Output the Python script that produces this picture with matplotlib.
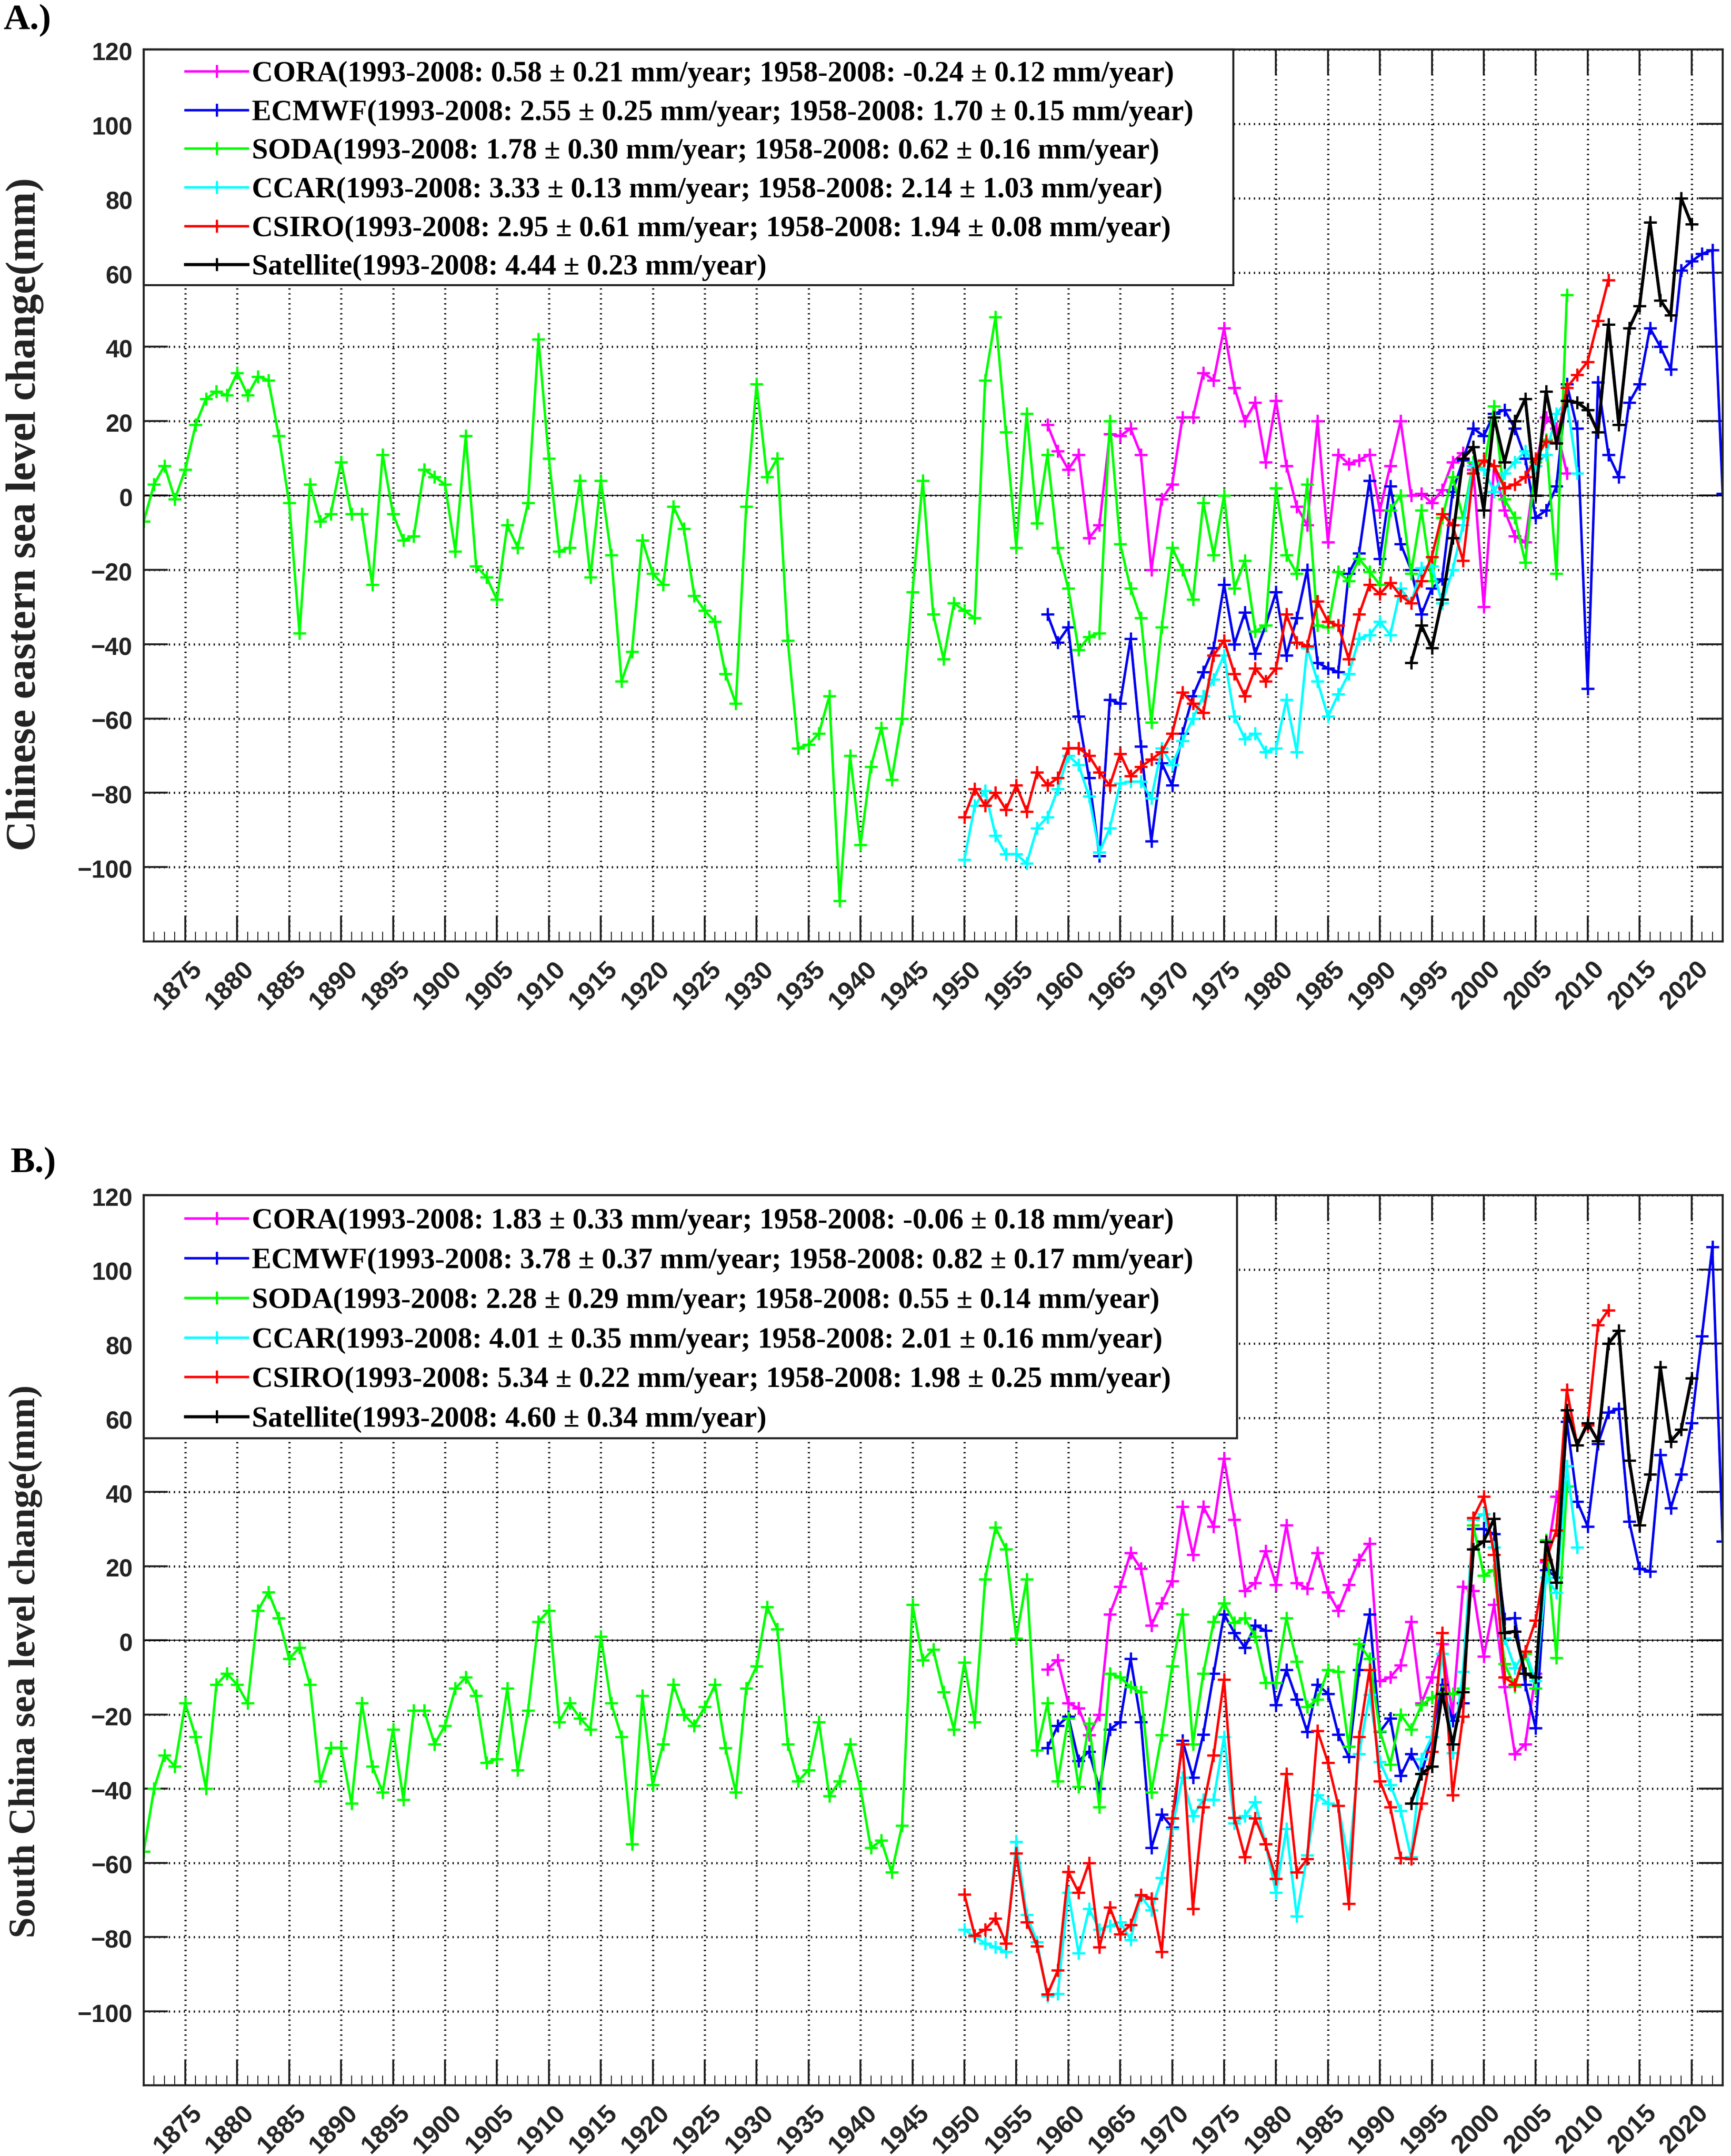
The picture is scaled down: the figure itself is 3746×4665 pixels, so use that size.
import numpy as np
import matplotlib
matplotlib.use('Agg')
import matplotlib.pyplot as plt
from matplotlib.patches import Rectangle
from matplotlib.ticker import MultipleLocator
from matplotlib.transforms import ScaledTranslation

W, H = 3746, 4665

names = ['CORA', 'ECMWF', 'SODA', 'CCAR', 'CSIRO', 'Satellite']
colors = ['#ff00ff', '#0000f0', '#00ff00', '#00ffff', '#ff0000', '#000000']
start_years = [1958, 1958, 1871, 1950, 1950, 1993]

# A.) Chinese eastern sea
cora_a = [19, 12, 7, 11, -11.5, -8, 16.5, 16, 18, 11, -20, -1, 3, 21, 21, 33, 31, 45, 29, 20,
          25, 9, 25.5, 8, -3, -8, 20, -12.5, 11, 8.5, 9.5, 11, -4, 8, 20, 0, 0.5, -2, 1.5, 9,
          11.5, 7, -30, 8, -4, -11, -12.5, 8, 21, 18, 6]
ecmwf_a = [-32, -39.5, -35.5, -59.5, -76, -97, -55, -56, -38.5, -67.5, -93, -72, -78, -64, -54,
           -47.5, -41, -24, -40, -31.5, -42.5, -35, -26, -43, -33, -20, -45, -46.5, -47.5, -21,
           -15.5, 4, -17, 2.5, -13, -20, -32, -25, -22.5, 1, 9.5, 18, 16, 22, 23, 18, 10, -6, -4,
           2.5, 30, 18, -52, 30.5, 11, 5, 25, 30, 45, 40, 34, 60.5, 63, 65, 66, 0.5]
soda_a = [-7, 3, 8, -1, 7, 19, 26, 28, 27, 33, 27, 32, 31, 16, -2, -37, 3, -7, -5, 9,
          -5, -5, -24, 11, -5, -12, -11, 7, 5, 3, -15, 16, -19, -22, -28, -8, -14, -2, 42, 10,
          -15, -14, 4, -22, 4, -16, -50, -42, -12, -21, -24, -3, -9, -27, -31, -34, -48, -56, -3, 30,
          5, 10, -39, -68, -67, -64, -54, -109, -70, -94, -73, -62.5, -76.5, -60, -26, 4, -32, -44, -29, -31,
          -33, 31, 48, 17, -14, 22, -7.5, 11, -14, -25, -41.5, -38, -37, 20, -13, -25, -33, -61, -35.5, -14,
          -20, -28, -2, -16, 0, -25, -17.5, -36.5, -35, 2, -16, -21, 3, -35, -35.5, -20.5, -23, -17, -20.5, -24,
          -4, 0, -21, -4, -23, -6, 5, -6, 9, 7, 24, -1, -6, -18, 9, 15, -21, 54]
ccar_a = [-98, -83.5, -79.5, -91.5, -96.5, -96.5, -99, -89.5, -86.5, -79, -70, -72.5, -81, -96, -89.5,
          -77.5, -77, -77, -81.5, -68, -72.5, -66, -60, -54, -49.5, -43, -59.5, -65.5, -64, -69,
          -68, -55, -69, -41, -50, -59.5, -53.5, -48, -38.5, -37.5, -34, -37.5, -25, -29, -19.5,
          -19, -29, -20, -8, 8, 7, 1, 6, 9, 12, 8, 11, 22, 25.5, 6]
csiro_a = [-86.5, -79, -83.5, -80, -84.5, -78, -85, -74.5, -78, -76, -68, -68, -70, -74.5, -78,
           -69.5, -75.5, -73, -71, -69, -64, -53, -56, -58.5, -43, -39, -48, -54, -46.5, -50,
           -46.5, -32, -39.5, -40.5, -28.5, -34, -35, -44, -32, -24, -26.5, -23.5, -27, -29, -23,
           -16.5, -5, -8, -17.5, 6, 9.5, 8, 2, 3, 5, 10, 14.5, 14, 29, 32.5, 36, 47, 58]
satellite_a = [-45, -35, -41, -28, -11.5, 10, 13, -4, 21, 9, 20, 26, 0, 28, 14, 25.5, 25, 23, 17, 46,
               19, 45, 51, 73.5, 52.5, 48.5, 80, 73]

# B.) South China Sea
cora_b = [-7.8, -5.3, -17, -18.3, -25.5, -20, 7, 14.4, 23.5, 19.3, 4, 10, 16, 36, 23, 36, 30.7, 49,
          32.5, 13.3, 15.5, 24, 15, 31, 15.4, 14, 23.5, 13, 8, 15, 21.7, 26, -11, -10, -6.7, 5,
          -17, -10, -1, -20, 14.4, 13.3, -4.4, 9.6, -12.6, -30.7, -28, -9, 21, 38.7]
ecmwf_b = [-29, -23, -20.5, -32.5, -30, -40, -24, -22, -5, -22, -56, -47, -50.5, -27, -37, -25.4,
           -9, 7, 2, -2, 4, 2.6, -17.5, -8, -16, -24.7, -12, -14.4, -25.4, -31.4, -8, 7, -24.7,
           -21, -36.5, -30.7, -36, -26, -12, -21.7, -17, 30, 30, 28.6, 5.7, 6, -12, -23.7, 19, 17,
           59, 37.4, 30.7, 53, 61.4, 62.4, 32, 19.3, 18.6, 50, 35.6, 44.7, 58.6, 82, 106, 26.7]
soda_b = [-57, -40, -31, -34, -17, -26, -40, -12, -9, -12, -17, 8, 13, 6, -5, -2, -12, -38, -29, -29,
          -44, -17, -34, -41, -24, -43, -19, -19, -28, -23, -13, -10, -15, -33, -32, -13, -35, -19, 5, 8,
          -22, -17, -21, -24, 1, -17, -26, -55, -15, -39, -28, -12, -20, -23, -18, -12, -29, -41, -13, -7,
          9, 3, -28, -38, -35, -22, -42, -38, -28, -40, -56, -54, -62.6, -50, 9.6, -5.4, -2.5, -14, -24, -6,
          -22, 16.5, 30.4, 24.6, 0.5, 16.5, -29.6, -17, -38, -21, -39.5, -22.4, -45, -9, -10, -12.6, -14, -41, -25.5, -7,
          7, -28, -9, 5, 10, 4.7, 6, 1, -11.5, -11.5, 6, -5.7, -18, -16, -8, -8.5, -28.6, -1, -5, -24.5,
          -33.5, -20, -24, -17.5, -15.5, -14, -14.5, -13, 31, 17.5, 19, -6.4, -12.4, -3.6, -13, 27, -4.7, 41.5]
ccar_b = [-78, -80, -81.7, -82.8, -84, -54.3, -74, -81.4, -96, -95.3, -68, -84.4, -72.4, -78, -77,
          -76, -80.7, -69, -72.8, -64, -50.8, -37, -47.4, -43, -43, -26, -49.4, -47.4, -43.6, -55,
          -68, -50.8, -74.4, -58, -41.8, -44, -44.6, -60, -30.7, -14.7, -32.8, -39, -46, -58.5, -32,
          -26, -3.6, -30.4, -8.5, 32.5, 34, 25, 0.5, -7.5, -3, -11, 17, 12.8, 47, 25]
csiro_b = [-68.5, -79.6, -78, -75, -81.7, -57.5, -76, -82.5, -95.5, -89, -62.4, -68, -60, -82.8, -72,
           -79.3, -76.8, -68.6, -69.6, -84, -48, -28, -72.4, -45, -31, -10.6, -47.8, -58.5, -48, -55,
           -64.3, -36, -62.6, -59, -24.4, -33, -44.6, -71, -26, -8, -38, -45, -58.7, -59, -44,
           -30, 2, -41.8, -20.5, 33, 38.7, 23, -10, -12, -3, 5.4, 21.7, 29.7, 67.5, 52.6, 58, 85, 89]
satellite_b = [-44, -36, -34, -14.4, -28, -14, 24.6, 26.7, 32.8, 2, 2.4, -9, -10, 26.5, 15.6, 62, 52.6,
               58.6, 53.7, 80, 83.5, 48.5, 31, 44.7, 73.7, 53.6, 56.8, 70.7]

labels_a = ['CORA(1993-2008: 0.58 ± 0.21 mm/year; 1958-2008: -0.24 ± 0.12 mm/year)',
            'ECMWF(1993-2008: 2.55 ± 0.25 mm/year; 1958-2008: 1.70 ± 0.15 mm/year)',
            'SODA(1993-2008: 1.78 ± 0.30 mm/year; 1958-2008: 0.62 ± 0.16 mm/year)',
            'CCAR(1993-2008: 3.33 ± 0.13 mm/year; 1958-2008: 2.14 ± 1.03 mm/year)',
            'CSIRO(1993-2008: 2.95 ± 0.61 mm/year; 1958-2008: 1.94 ± 0.08 mm/year)',
            'Satellite(1993-2008: 4.44 ± 0.23 mm/year)']
labels_b = ['CORA(1993-2008: 1.83 ± 0.33 mm/year; 1958-2008: -0.06 ± 0.18 mm/year)',
            'ECMWF(1993-2008: 3.78 ± 0.37 mm/year; 1958-2008: 0.82 ± 0.17 mm/year)',
            'SODA(1993-2008: 2.28 ± 0.29 mm/year; 1958-2008: 0.55 ± 0.14 mm/year)',
            'CCAR(1993-2008: 4.01 ± 0.35 mm/year; 1958-2008: 2.01 ± 0.16 mm/year)',
            'CSIRO(1993-2008: 5.34 ± 0.22 mm/year; 1958-2008: 1.98 ± 0.25 mm/year)',
            'Satellite(1993-2008: 4.60 ± 0.34 mm/year)']
y_ticks = list(range(-100, 121, 20))
x_ticks = list(range(1875, 2021, 5))

plt.rcParams['font.family'] = 'Liberation Sans'
plt.rcParams['font.weight'] = 'bold'

fig = plt.figure(figsize=(W / 300, H / 300), dpi=300, facecolor='white')


def draw_panel(top_px, bottom_px, series, labels, box_w, box_h, row_px, legend_top):
    ax = fig.add_axes([311 / W, 1 - bottom_px / H, (3728 - 311) / W, (bottom_px - top_px) / H])
    for name, color, start, values in zip(names, colors, start_years, series):
        years = np.arange(start, start + len(values))
        lw = 1.6 if name == 'Satellite' else 1.3
        ax.plot(years, values, color=color, lw=lw, marker='+', ms=6.8, mew=1.2, zorder=3)

    ax.set_xlim(1871, 2023)
    ax.set_ylim(-120, 120)
    ax.set_xticks(x_ticks)
    ax.set_yticks(y_ticks)
    ax.xaxis.set_minor_locator(MultipleLocator(1))
    ax.grid(True, color='black', lw=1.1, linestyle=(0, (0.6, 1.75)), zorder=1)
    ax.axhline(0, color='black', lw=0.5, zorder=1)
    ax.set_axisbelow(True)
    ax.tick_params(axis='both', which='major', direction='in', width=1.0,
                   color='#222222', labelcolor='#222222', labelsize=12.7)
    ax.tick_params(axis='y', right=True, pad=5.8, length=12.4)
    ax.tick_params(axis='x', top=True, pad=8.2, labelsize=13.3, length=13.5)
    ax.tick_params(axis='x', which='minor', direction='in', length=5, width=0.5, color='#222222')
    xshift = ScaledTranslation(-15 / 300, 0, fig.dpi_scale_trans)
    for lab in ax.get_xticklabels():
        lab.set_rotation(45)
        lab.set_ha('center')
        lab.set_transform(lab.get_transform() + xshift)
    yshift = ScaledTranslation(0, -4 / 300, fig.dpi_scale_trans)
    for lab in ax.get_yticklabels():
        lab.set_transform(lab.get_transform() + yshift)
    for spine in ax.spines.values():
        spine.set_linewidth(1.05)
        spine.set_color('#222222')
        spine.set_zorder(6)

    # legend box sits on the axes corner, wider margins than matplotlib's own pad
    ax.add_patch(Rectangle((0, 1 - box_h), box_w, box_h, transform=ax.transAxes, facecolor='white',
                           edgecolor='#222222', lw=1.05, zorder=4, clip_on=False))
    fs = 15.15
    row_pt = row_px * 72 / 300
    ax.legend(labels, loc='upper left', bbox_to_anchor=(90 / 3417, 1 - legend_top / (bottom_px - top_px)),
              frameon=False, borderpad=0, borderaxespad=0, handlelength=2.14, handletextpad=0.14,
              labelspacing=(row_pt - 0.92 * fs) / fs,
              prop={'family': 'Liberation Serif', 'weight': 'bold', 'size': fs}).set_zorder(5)
    return ax


draw_panel(107, 2037, [cora_a, ecmwf_a, soda_a, ccar_a, csiro_a, satellite_a], labels_a,
           (2669 - 311) / 3417, (617 - 107) / 1930, 83.5, 25)
draw_panel(2586, 4512, [cora_b, ecmwf_b, soda_b, ccar_b, csiro_b, satellite_b], labels_b,
           (2677 - 311) / 3417, (3112 - 2586) / 1926, 85.7, 28)

serif = {'family': 'Liberation Serif', 'weight': 'bold', 'color': '#222222'}
fig.text(95 / W, 1 - 1113 / H, 'Chinese eastern sea level change(mm)', rotation=90, fontsize=21.7,
         ha='right', va='center', **serif)
fig.text(92 / W, 1 - 3595 / H, 'South China sea level change(mm)', rotation=90, fontsize=19.5,
         ha='right', va='center', **serif)
fig.text(7 / W, 1 - 63 / H, 'A.)', fontsize=19, family='Liberation Serif', weight='bold')
fig.text(23 / W, 1 - 2536 / H, 'B.)', fontsize=19, family='Liberation Serif', weight='bold')

fig.savefig('out.png', dpi=300, facecolor='white')
